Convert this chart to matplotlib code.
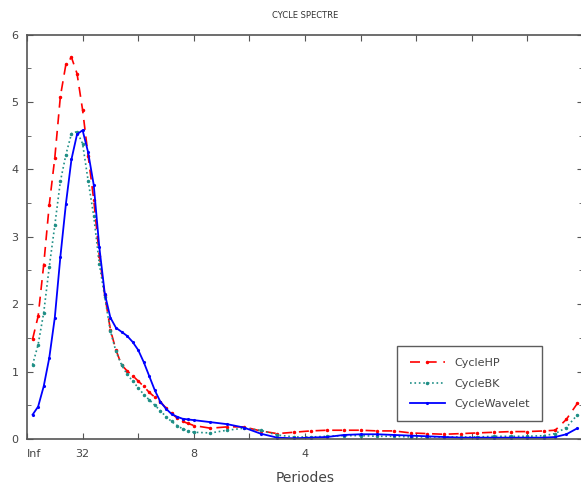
import matplotlib
matplotlib.use("Agg")
import matplotlib.pyplot as plt
from matplotlib.ticker import MultipleLocator

# frequency axis (fraction of pi)
freq = [0.01, 0.02, 0.03, 0.04, 0.05, 0.06, 0.07, 0.08, 0.09, 0.10,
        0.11, 0.12, 0.13, 0.14, 0.15, 0.16, 0.17, 0.18, 0.19, 0.20,
        0.21, 0.22, 0.23, 0.24, 0.25, 0.26, 0.27, 0.28, 0.29, 0.30,
        0.33, 0.36, 0.39, 0.42, 0.45, 0.48, 0.51, 0.54, 0.57, 0.60,
        0.63, 0.66, 0.69, 0.72, 0.75, 0.78, 0.81, 0.84, 0.87, 0.90,
        0.93, 0.95, 0.97, 0.99]

cycle_hp = [1.48, 1.82, 2.58, 3.47, 4.17, 5.08, 5.56, 5.66, 5.42, 4.88,
            4.20, 3.55, 2.72, 2.13, 1.62, 1.32, 1.10, 1.01, 0.94, 0.86,
            0.78, 0.69, 0.62, 0.55, 0.46, 0.38, 0.31, 0.26, 0.23, 0.20,
            0.16, 0.18, 0.18, 0.12, 0.08, 0.10, 0.12, 0.13, 0.13, 0.13,
            0.12, 0.12, 0.09, 0.08, 0.07, 0.08, 0.09, 0.10, 0.11, 0.11,
            0.12, 0.13, 0.29, 0.53]

cycle_bk = [1.10, 1.40, 1.87, 2.55, 3.17, 3.82, 4.22, 4.53, 4.56, 4.38,
            3.83, 3.31, 2.60, 2.10, 1.60, 1.30, 1.10, 0.96, 0.86, 0.76,
            0.66, 0.58, 0.50, 0.42, 0.33, 0.26, 0.20, 0.15, 0.12, 0.10,
            0.09, 0.13, 0.16, 0.13, 0.06, 0.03, 0.03, 0.04, 0.05, 0.05,
            0.04, 0.04, 0.03, 0.03, 0.03, 0.03, 0.03, 0.04, 0.04, 0.04,
            0.05, 0.08, 0.17, 0.36]

cycle_wavelet = [0.36, 0.48, 0.78, 1.20, 1.80, 2.70, 3.49, 4.15, 4.52, 4.58,
                 4.25, 3.77, 2.85, 2.15, 1.80, 1.65, 1.59, 1.53, 1.44, 1.32,
                 1.14, 0.93, 0.72, 0.55, 0.45, 0.37, 0.33, 0.30, 0.29, 0.28,
                 0.25, 0.22, 0.17, 0.08, 0.02, 0.01, 0.02, 0.03, 0.06, 0.07,
                 0.07, 0.06, 0.05, 0.04, 0.03, 0.02, 0.02, 0.02, 0.02, 0.02,
                 0.02, 0.03, 0.07, 0.16]

tick_pos = [0.0, 0.1, 0.2, 0.3, 0.4, 0.5, 0.6, 0.7, 0.8, 0.9, 1.0]
tick_labels = ["Inf", "32", "", "8", "", "4", "", "", "", "", ""]

fig = plt.figure(figsize=(5.81, 4.91), dpi=100)
ax = fig.add_axes([27 / 581, 52 / 491, 556 / 581, 404.5 / 491])

ax.plot(freq, cycle_hp, color="red", linestyle="--", marker=".", markersize=3,
        linewidth=1.2, dashes=(6, 4), label="CycleHP")
ax.plot(freq, cycle_bk, color="#1f8f86", linestyle=":", marker=".", markersize=3,
        linewidth=1.2, label="CycleBK")
ax.plot(freq, cycle_wavelet, color="blue", linestyle="-", marker=".", markersize=2.5,
        linewidth=1.3, label="CycleWavelet")

ax.set_xlim(0, 1)
ax.set_ylim(0, 6)
ax.set_xticks(tick_pos)
ax.set_xticklabels(tick_labels, fontsize=8, color="#444444")
ax.get_xticklabels()[0].set_horizontalalignment("left")
ax.yaxis.set_major_locator(MultipleLocator(1))
ax.yaxis.set_minor_locator(MultipleLocator(0.5))
ax.tick_params(axis="both", which="both", direction="in", top=True, right=True,
               color="#555555", labelcolor="#444444")
ax.tick_params(axis="y", labelsize=8, length=4, pad=6)
ax.tick_params(axis="y", which="minor", length=3)
ax.tick_params(axis="x", length=4, pad=7)
for sp in ax.spines.values():
    sp.set_color("#555555")
    sp.set_linewidth(1.2)

ax.set_title("CYCLE SPECTRE", fontsize=6, color="#333333", pad=12)
ax.set_xlabel("Periodes", fontsize=10, color="#444444", labelpad=9)

leg = ax.legend(loc="lower right", bbox_to_anchor=(0.936, 0.03), fontsize=8,
                frameon=True, fancybox=False, handlelength=3.2, borderpad=1.1,
                labelspacing=0.95)
leg.get_frame().set_edgecolor("#333333")
leg.get_frame().set_linewidth(1.0)
for t in leg.get_texts():
    t.set_color("#444444")

fig.savefig("out.png", dpi=100)
